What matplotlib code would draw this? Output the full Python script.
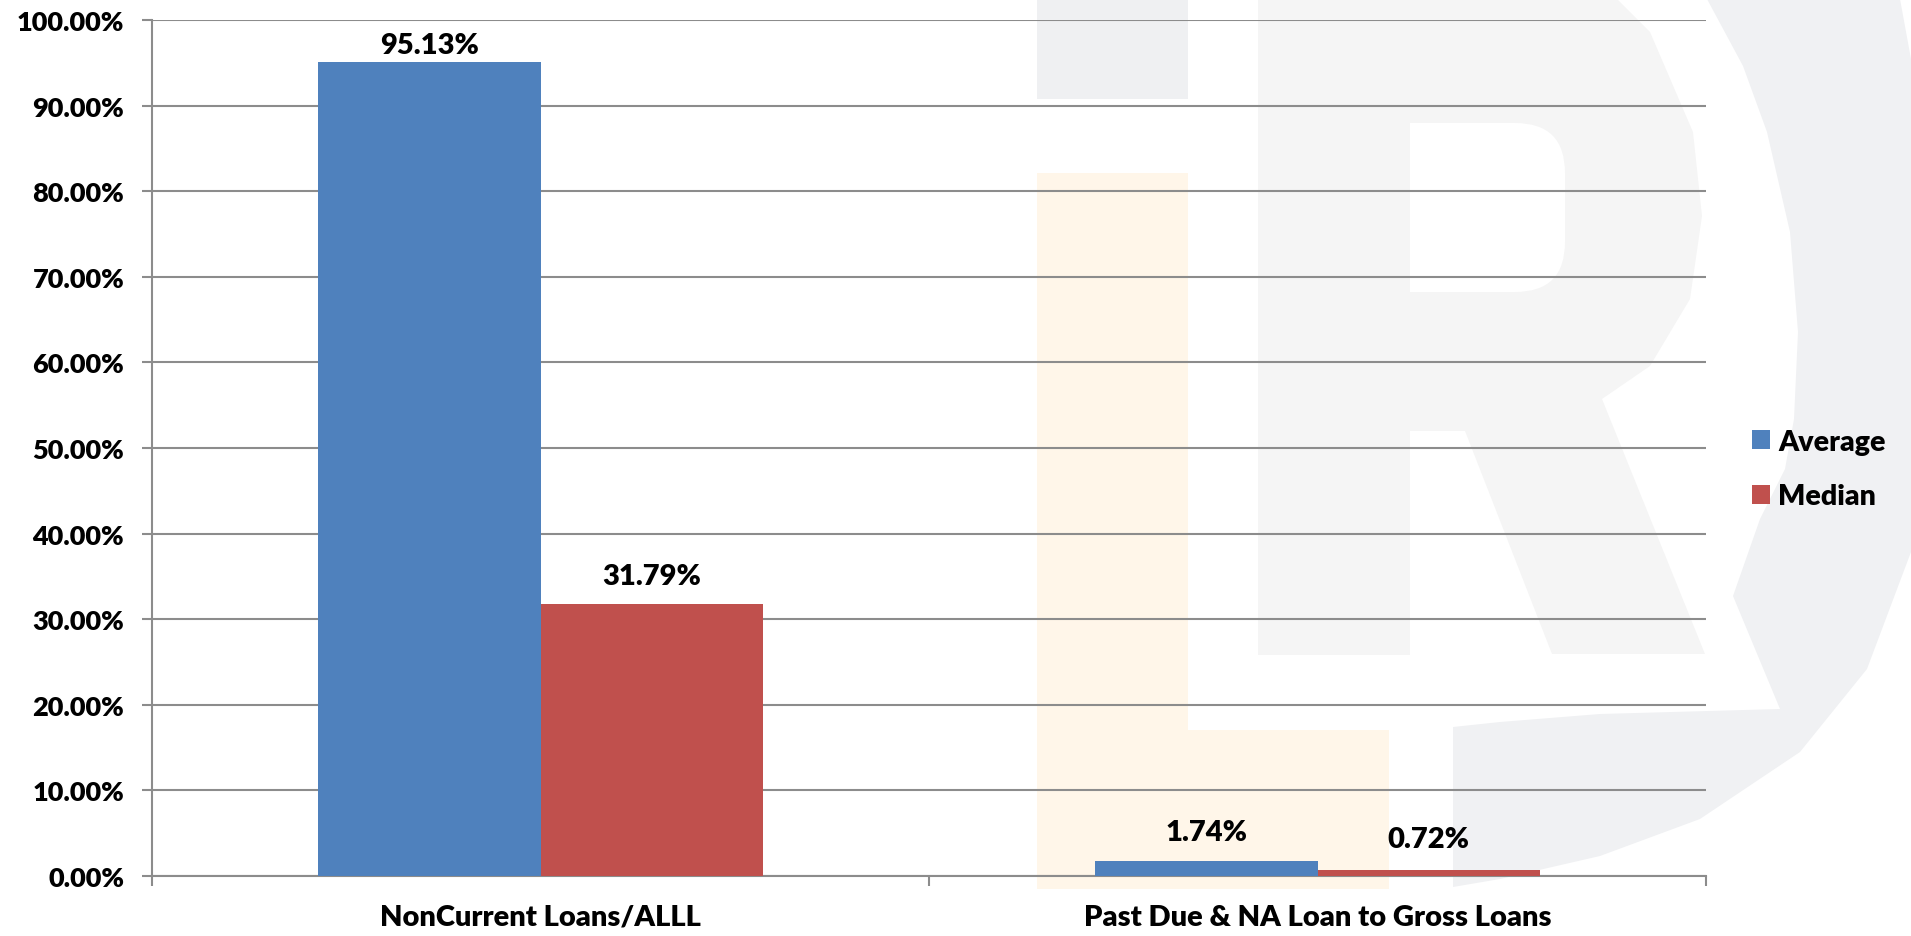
import matplotlib
matplotlib.use("Agg")
import matplotlib.pyplot as plt
import numpy as np
from matplotlib.patches import Polygon, Rectangle, FancyBboxPatch
from matplotlib.ticker import FuncFormatter, MultipleLocator

# === DATA ===
categories = ["NonCurrent Loans/ALLL", "Past Due & NA Loan to Gross Loans"]
series_names = ["Average", "Median"]
average_vals = [95.13, 1.74]
median_vals = [31.79, 0.72]

# === STYLE ===
FONT = ["Lato", "DejaVu Sans"]
WEIGHT = "heavy"
BLUE = "#4F81BD"
RED = "#C0504D"
GRID = "#8c8c8c"
W, H = 1911, 937

plt.rcParams["font.family"] = FONT
plt.rcParams["font.weight"] = WEIGHT

fig = plt.figure(figsize=(W / 100, H / 100), dpi=100)
fig.patch.set_facecolor("white")

# === background watermark (faint logo), pixel coords ===
bg = fig.add_axes([0, 0, 1, 1], zorder=0)
bg.set_xlim(0, W)
bg.set_ylim(H, 0)
bg.axis("off")
ring = [(1707, 0), (1900, 0), (1911, 60), (1911, 553), (1867, 670), (1800, 753),
        (1700, 820), (1600, 857), (1500, 880), (1453, 888), (1453, 728), (1500, 723),
        (1600, 715), (1780, 710), (1733, 597), (1760, 520), (1785, 470), (1794, 420),
        (1798, 333), (1790, 233), (1767, 133), (1743, 67)]
bg.add_patch(Polygon(ring, closed=True, fc="#f0f1f3", ec="none"))
r_shape = [(1258, 0), (1617, 0), (1650, 33), (1693, 133), (1702, 217), (1690, 300),
           (1650, 367), (1602, 400), (1705, 655), (1552, 655), (1465, 432), (1410, 432),
           (1410, 656), (1258, 656)]
bg.add_patch(Polygon(r_shape, closed=True, fc="#f5f5f5", ec="none"))
bg.add_patch(FancyBboxPatch((1410, 124), 155, 169, boxstyle="round,pad=0,rounding_size=50",
                            fc="white", ec="none"))
bg.add_patch(Rectangle((1410, 124), 70, 169, fc="white", ec="none"))
bg.add_patch(Rectangle((1037, 0), 151, 100, fc="#eff0f2", ec="none"))
bg.add_patch(Rectangle((1037, 174), 151, 716, fc="#fff6e9", ec="none"))
bg.add_patch(Rectangle((1188, 731), 201, 159, fc="#fff6e9", ec="none"))

# === main chart ===
ax = fig.add_axes([152 / W, 1 - 877 / H, (1706 - 152) / W, (877 - 21) / H], zorder=1)
ax.set_facecolor("none")

x = np.arange(len(categories))
bw = 0.286
b1 = ax.bar(x - bw / 2, average_vals, bw, color=BLUE, label=series_names[0], zorder=3)
b2 = ax.bar(x + bw / 2, median_vals, bw, color=RED, label=series_names[1], zorder=3)

label_offsets = [[12, 21], [20, 22]]  # points above bar top, per series / category
for bars, vals, offs in zip([b1, b2], [average_vals, median_vals], label_offsets):
    for rect, v, off in zip(bars, vals, offs):
        ax.annotate(f"{v:.2f}%", (rect.get_x() + rect.get_width() / 2, v),
                    xytext=(0, off), textcoords="offset points",
                    ha="center", va="center", fontsize=21, fontweight=WEIGHT,
                    color="black", zorder=4)

ax.set_xlim(-0.5, 1.5)
ax.set_ylim(0, 100)
ax.yaxis.set_major_locator(MultipleLocator(10))
ax.yaxis.set_major_formatter(FuncFormatter(lambda v, p: f"{v:.2f}%"))
ax.grid(axis="y", color=GRID, linewidth=1.5, zorder=1)
ax.set_axisbelow(True)

ax.set_xticks([-0.5, 0.5, 1.5])
ax.set_xticklabels([])
ax.set_xticks(x, minor=True)
ax.set_xticklabels(categories, minor=True)
ax.tick_params(axis="x", which="major", length=7, width=1.5, color=GRID, direction="out")
ax.tick_params(axis="x", which="minor", length=0, pad=20, labelsize=21)
ax.tick_params(axis="y", length=7, width=1.5, color=GRID, direction="out", pad=13, labelsize=19.5)

for s in ["top", "right"]:
    ax.spines[s].set_visible(False)
for s in ["left", "bottom"]:
    ax.spines[s].set_color(GRID)
    ax.spines[s].set_linewidth(1.5)

for lab in ax.get_xticklabels(minor=True) + ax.get_yticklabels():
    lab.set_fontweight(WEIGHT)
    lab.set_color("black")

ax.legend(loc="center left", bbox_to_anchor=(1752 / W, 1 - 470 / H),
          bbox_transform=fig.transFigure, frameon=False,
          handlelength=0.63, handleheight=0.63, handletextpad=0.3,
          labelspacing=1.0, borderpad=0, borderaxespad=0,
          prop={"weight": WEIGHT, "size": 20.5})

fig.savefig("out.png", dpi=100)
